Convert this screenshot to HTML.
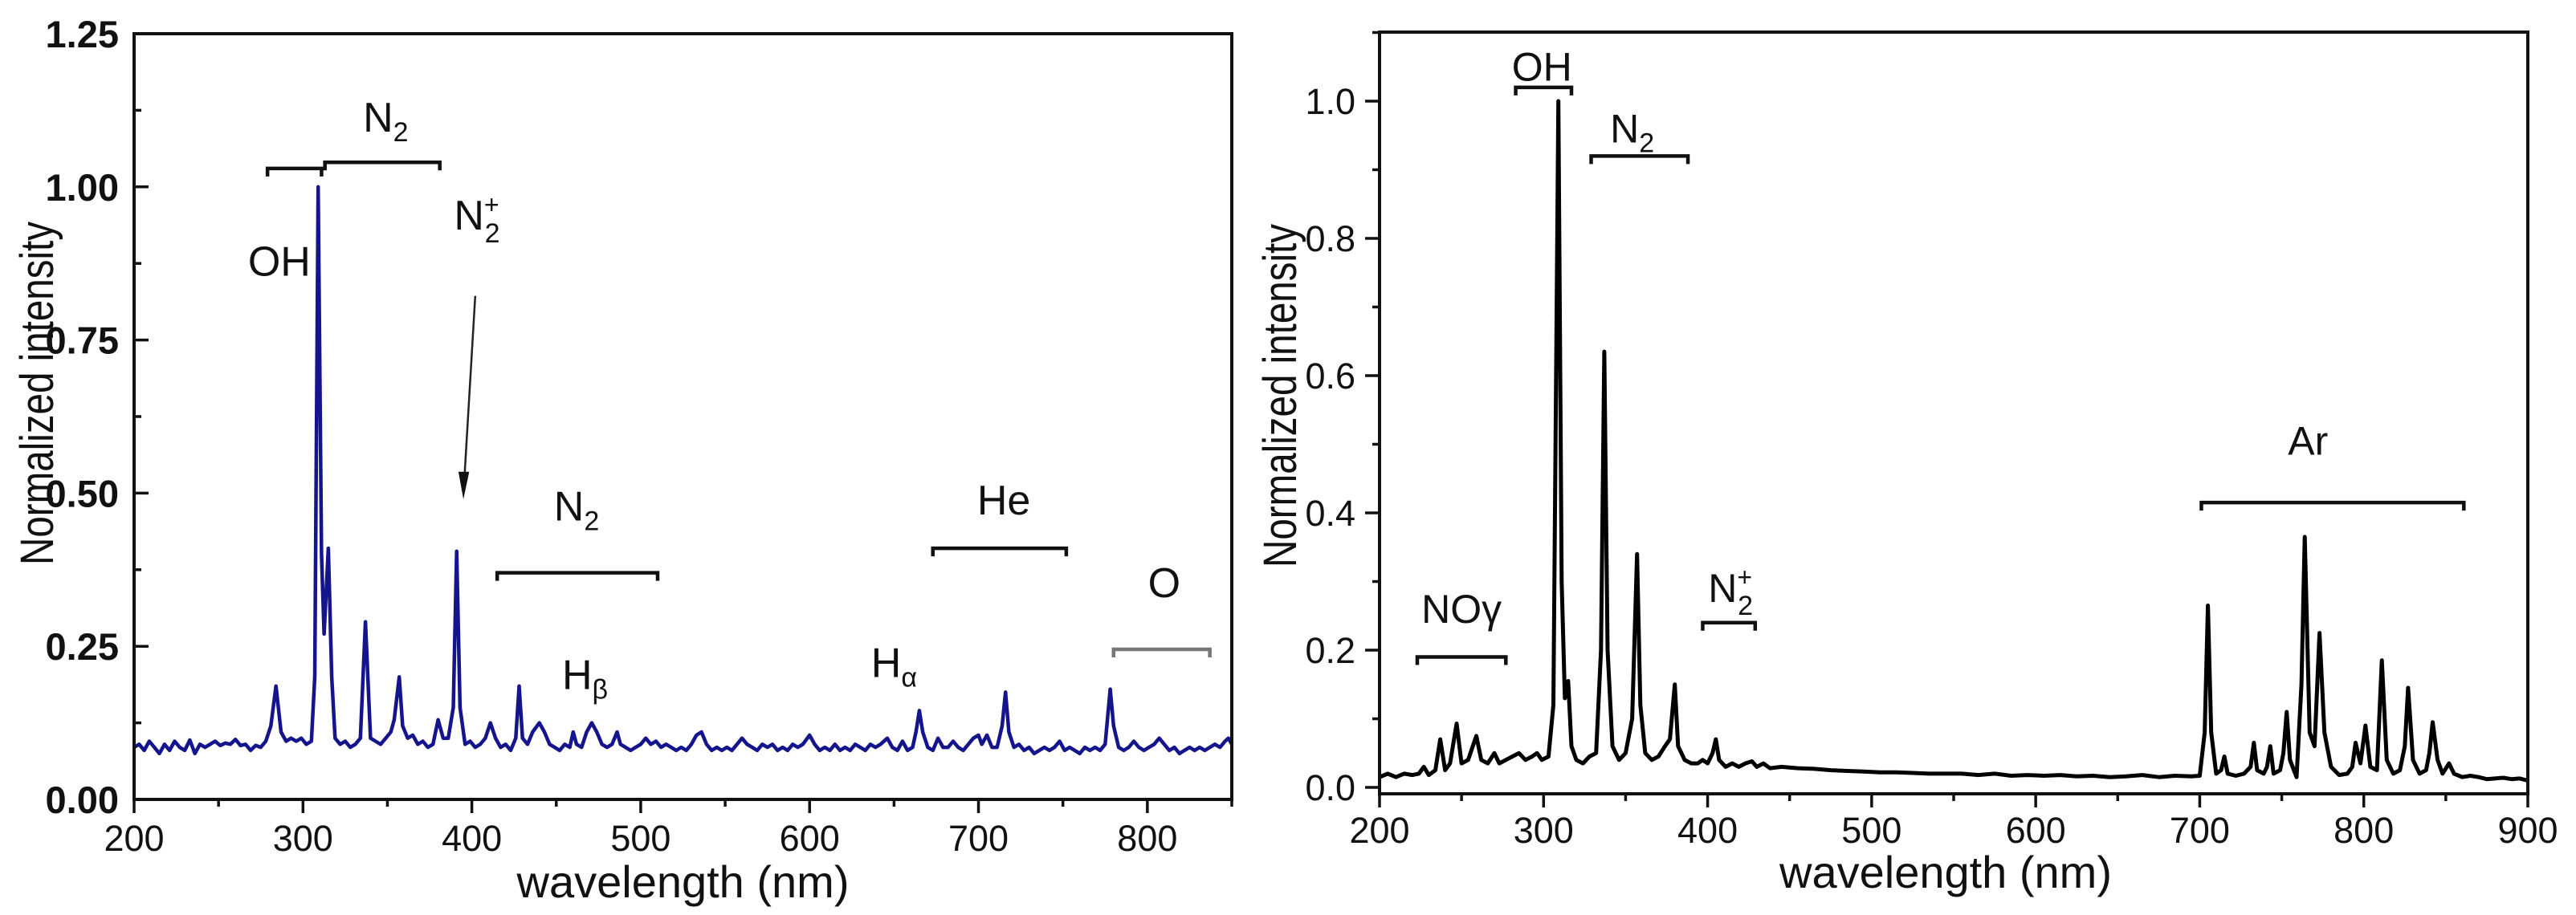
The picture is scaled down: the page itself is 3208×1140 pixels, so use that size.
<!DOCTYPE html>
<html><head><meta charset="utf-8"><style>
html,body{margin:0;padding:0;background:#fff;}
svg{display:block;font-family:"Liberation Sans",Arial,sans-serif;}
</style></head><body>
<svg id="fig" width="3208" height="1140" viewBox="0 0 3208 1140" xmlns="http://www.w3.org/2000/svg"></svg>
<script>
// ---------- Left chart data ----------
const leftWl = [200,203,206,209,212,215,218,221,224,227,230,233,236,239,242,245,248,251,254,257,260,263,266,269,272,275,278,281,284,287,290,293,296,299,302,305,307,309,311,312.5,315,317,319,322,325,328,331,334,337,340,343,346,349,352,354,357,359,362,365,368,371,374,377,380,383,386,389,391,393,396,399,402,405,408,411,414,417,420,423,426,428,430,433,436,440,443,446,449,452,455,458,460,462,465,468,471,474,477,480,483,486,488,491,494,497,500,503,506,509,512,515,518,521,524,527,530,533,536,539,542,545,548,551,554,557,560,563,566,569,572,575,578,581,584,587,590,593,596,600,603,606,609,612,615,618,621,624,627,630,633,636,639,642,646,649,652,655,658,661,663,665,667,670,673,676,679,682,685,688,691,694,697,700,702,705,708,711,714,716,718,721,724,727,730,733,736,739,742,745,748,751,754,757,760,763,766,769,772,775,778,780,783,786,789,792,795,798,801,804,807,810,813,816,819,822,825,828,831,834,837,840,843,846,848,850];
const leftVal = [.085,.09,.08,.095,.085,.075,.09,.08,.095,.085,.08,.097,.075,.09,.085,.09,.095,.088,.092,.09,.098,.088,.09,.08,.088,.085,.095,.12,.185,.11,.095,.1,.095,.1,.09,.095,.2,1.0,.4,.27,.41,.2,.1,.09,.095,.085,.09,.1,.29,.1,.095,.09,.1,.11,.13,.2,.12,.1,.105,.09,.095,.085,.09,.13,.1,.1,.15,.405,.15,.09,.095,.085,.09,.1,.125,.1,.085,.09,.08,.1,.185,.1,.09,.11,.125,.11,.09,.085,.08,.09,.085,.11,.09,.085,.11,.125,.11,.09,.085,.09,.11,.09,.085,.08,.085,.09,.1,.09,.095,.085,.09,.085,.08,.085,.08,.09,.105,.11,.09,.08,.085,.08,.085,.08,.09,.1,.09,.085,.08,.09,.085,.09,.08,.085,.08,.09,.085,.09,.105,.09,.08,.085,.08,.09,.08,.085,.08,.09,.085,.08,.09,.085,.09,.1,.085,.08,.095,.08,.085,.11,.145,.11,.085,.08,.1,.085,.085,.095,.085,.08,.09,.1,.105,.09,.105,.085,.085,.12,.175,.11,.085,.09,.08,.085,.075,.08,.085,.08,.085,.095,.08,.085,.08,.075,.085,.08,.085,.08,.09,.18,.12,.085,.08,.085,.095,.085,.08,.085,.09,.1,.09,.08,.085,.075,.08,.085,.08,.085,.08,.085,.09,.085,.095,.1,.09];
const leftYTicks = [0,0.25,0.5,0.75,1.0,1.25];
const leftYLabels = ["0.00","0.25","0.50","0.75","1.00","1.25"];
const leftXTicks = [200,300,400,500,600,700,800];

// ---------- Right chart data ----------
const rightWl = [200,205,210,215,220,224,227,230,234,237,240,243,247,250,254,259,262,266,270,273,277,281,285,289,293,296,299,303,306,309,311,313,315,317,320,324,328,332,335,337,339,342,346,350,354,357,359,362,366,370,374,377,380,382,386,390,394,397,400,403,405,407,411,415,419,423,427,430,434,438,445,455,465,475,485,495,505,515,525,535,545,555,565,575,585,595,605,615,625,635,645,655,665,675,685,695,700,703,705,707,710,713,715,717,722,727,731,733,735,739,741,743,745,749,751,753,755,759,762,764,767,770,773,776,780,785,790,793,795,798,801,804,808,811,814,818,822,825,827,830,834,838,840,842,845,848,852,855,860,865,870,875,880,885,890,895,900];
const rightVal = [.015,.02,.015,.02,.018,.02,.03,.018,.025,.07,.025,.035,.093,.035,.04,.075,.04,.035,.05,.035,.04,.045,.05,.04,.045,.05,.04,.045,.12,1.0,.3,.13,.155,.06,.04,.035,.045,.05,.2,.635,.2,.06,.04,.05,.1,.34,.12,.05,.04,.045,.06,.07,.15,.06,.04,.035,.035,.04,.035,.05,.07,.04,.03,.035,.03,.035,.038,.03,.035,.028,.03,.028,.027,.025,.024,.023,.022,.022,.021,.02,.02,.02,.018,.02,.017,.018,.017,.018,.016,.017,.015,.016,.018,.015,.017,.016,.017,.08,.265,.08,.02,.025,.045,.02,.017,.02,.03,.065,.025,.02,.03,.06,.02,.025,.05,.11,.04,.015,.15,.365,.08,.06,.225,.08,.03,.018,.02,.03,.065,.035,.09,.03,.025,.185,.04,.02,.025,.06,.145,.04,.02,.025,.05,.095,.04,.02,.035,.02,.015,.017,.015,.012,.013,.014,.012,.013,.01];
const rightYTicks = [0,0.2,0.4,0.6,0.8,1.0];
const rightYLabels = ["0.0","0.2","0.4","0.6","0.8","1.0"];
const rightXTicks = [200,300,400,500,600,700,800,900];

const NS = "http://www.w3.org/2000/svg";
const svg = document.getElementById('fig');
function mk(tag, attrs, parent, text){
  const e = document.createElementNS(NS, tag);
  for (const k in attrs) e.setAttribute(k, attrs[k]);
  if (text !== undefined) e.textContent = text;
  (parent || svg).appendChild(e);
  return e;
}

// ---------- Left chart ----------
const L = {x0:167, x1:1534, y0:996, y1:42, xmin:200, xmax:850, ymin:0, ymax:1.25};
const lx = v => L.x0 + (v - L.xmin) / (L.xmax - L.xmin) * (L.x1 - L.x0);
const ly = v => L.y0 - (v - L.ymin) / (L.ymax - L.ymin) * (L.y0 - L.y1);

const gL = mk('g', {});



let d = '';
leftWl.forEach((w, i) => { d += (i ? 'L' : 'M') + lx(w).toFixed(1) + ',' + ly(leftVal[i]).toFixed(1); });
const lLine = mk('path', {d: d, fill:'none', stroke:'#14148c', 'stroke-width':4.5, 'stroke-linejoin':'round'}, gL);



const lFrame = mk('rect', {x:L.x0, y:L.y1, width:L.x1-L.x0, height:L.y0-L.y1, fill:'none', stroke:'#111', 'stroke-width':4}, gL);



leftYTicks.forEach((t, i) => {
  const y = ly(t);
  const tk = mk('line', {x1:L.x0, x2:L.x0+18, y1:y, y2:y, stroke:'#111', 'stroke-width':3.5}, gL);
  
  
  const lb = mk('text', {x:148, y:y+17, 'text-anchor':'end', 'font-size':47, 'font-weight':'bold', fill:'#111'}, gL, leftYLabels[i]);
  
  
  if (i < leftYTicks.length - 1) {
    const ym = ly(t + 0.125);
    const mt = mk('line', {x1:L.x0, x2:L.x0+9, y1:ym, y2:ym, stroke:'#111', 'stroke-width':3.5}, gL);
    
    
  }
});
leftXTicks.forEach((t) => {
  const x = lx(t);
  const tk = mk('line', {x1:x, x2:x, y1:L.y0, y2:L.y0+17, stroke:'#111', 'stroke-width':3.5}, gL);
  
  
  const lb = mk('text', {x:x, y:1060, 'text-anchor':'middle', 'font-size':45, fill:'#111'}, gL, String(t));
  
  
  const xm = lx(t + 50);
  const mt = mk('line', {x1:xm, x2:xm, y1:L.y0, y2:L.y0+9, stroke:'#111', 'stroke-width':3.5}, gL);
  
  
});
const lxt = mk('text', {x:(L.x0+L.x1)/2, y:1118, 'text-anchor':'middle', 'font-size':56, fill:'#111'}, gL, 'wavelength (nm)');


const lyt = mk('text', {x:0, y:0, transform:'translate(66,490) rotate(-90) scale(0.82,1)', 'text-anchor':'middle', 'font-size':58, fill:'#111'}, gL, 'Normalized intensity');



function bracket(g, fx, fy, a, b, v, color, name){
  const y = fy(v);
  const p = mk('path', {d:`M${fx(a)},${y+10}V${y}H${fx(b)}V${y+10}`, fill:'none', stroke:color, 'stroke-width':4.5}, g);
  
  
}
function label(g, x, y, main, sub, sup, name, size){
  const t = mk('text', {x:x, y:y, 'text-anchor':'middle', 'font-size':size||52, fill:'#111'}, g);
  
  
  mk('tspan', {}, t, main);
  if (sup) mk('tspan', {dy:-20, 'font-size':32}, t, sup);
  if (sub) mk('tspan', {dx: sup ? -18 : 0, dy: sup ? 36 : 12, 'font-size':34}, t, sub);
  return t;
}
bracket(gL, lx, ly, 279, 311, 1.03, '#111', 'oh-bracket');
bracket(gL, lx, ly, 313, 381, 1.04, '#111', 'n2-bracket-1');
bracket(gL, lx, ly, 415, 510, 0.37, '#111', 'n2-bracket-2');
bracket(gL, lx, ly, 673, 752, 0.41, '#111', 'he-bracket');
bracket(gL, lx, ly, 780, 837, 0.245, '#777', 'o-bracket');
label(gL, lx(286), ly(0.855), 'OH', null, null, 'oh-label');
label(gL, lx(349), ly(1.09), 'N', '2', null, 'n2-label-1');
label(gL, lx(403), ly(0.93), 'N', '2', '+', 'n2-plus-label');
label(gL, lx(462), ly(0.455), 'N', '2', null, 'n2-label-2');
label(gL, lx(715), ly(0.465), 'He', null, null, 'he-label');
label(gL, lx(810), ly(0.33), 'O', null, null, 'o-label');
label(gL, lx(467), ly(0.18), 'H', 'β', null, 'h-beta-label');
label(gL, lx(650), ly(0.2), 'H', 'α', null, 'h-alpha-label');
const arr = mk('line', {x1:lx(402), y1:ly(0.822), x2:lx(395.5), y2:ly(0.52), stroke:'#222', 'stroke-width':2.5}, gL);


const ah = mk('path', {d:`M${lx(395)},${ly(0.49)} L${lx(393)-2},${ly(0.535)} L${lx(397.5)+2},${ly(0.535)} Z`, fill:'#111'}, gL);



// ---------- Right chart ----------
const R = {x0:1718, x1:3148, y0:989, y1:40, xmin:200, xmax:900};
const rx = v => R.x0 + (v - R.xmin) / (R.xmax - R.xmin) * (R.x1 - R.x0);
const ry = v => 981 - v * 855;

const gR = mk('g', {});



let d2 = '';
rightWl.forEach((w, i) => { d2 += (i ? 'L' : 'M') + rx(w).toFixed(1) + ',' + ry(rightVal[i]).toFixed(1); });
const rLine = mk('path', {d: d2, fill:'none', stroke:'#000', 'stroke-width':5, 'stroke-linejoin':'round'}, gR);



const rFrame = mk('rect', {x:R.x0, y:R.y1, width:R.x1-R.x0, height:R.y0-R.y1, fill:'none', stroke:'#111', 'stroke-width':4}, gR);



rightYTicks.forEach((t, i) => {
  const y = ry(t);
  const tk = mk('line', {x1:R.x0-18, x2:R.x0, y1:y, y2:y, stroke:'#111', 'stroke-width':3.5}, gR);
  
  
  const lb = mk('text', {x:R.x0-30, y:y+16, 'text-anchor':'end', 'font-size':45, fill:'#111'}, gR, rightYLabels[i]);
  
  
  const ym = ry(t + 0.1);
  const mt = mk('line', {x1:R.x0-9, x2:R.x0, y1:ym, y2:ym, stroke:'#111', 'stroke-width':3.5}, gR);
  
  
});
rightXTicks.forEach((t, i) => {
  const x = rx(t);
  const tk = mk('line', {x1:x, x2:x, y1:R.y0, y2:R.y0+17, stroke:'#111', 'stroke-width':3.5}, gR);
  
  
  const lb = mk('text', {x:x, y:1050, 'text-anchor':'middle', 'font-size':45, fill:'#111'}, gR, String(t));
  
  
  if (i < rightXTicks.length - 1) {
    const xm = rx(t + 50);
    const mt = mk('line', {x1:xm, x2:xm, y1:R.y0, y2:R.y0+9, stroke:'#111', 'stroke-width':3.5}, gR);
    
    
  }
});
const rxt = mk('text', {x:(R.x0+R.x1)/2 - 10, y:1106, 'text-anchor':'middle', 'font-size':56, fill:'#111'}, gR, 'wavelength (nm)');


const ryt = mk('text', {x:0, y:0, transform:'translate(1614,493) rotate(-90) scale(0.82,1)', 'text-anchor':'middle', 'font-size':58, fill:'#111'}, gR, 'Normalized intensity');



bracket(gR, rx, ry, 283, 317, 1.02, '#111', 'right-oh-bracket');
bracket(gR, rx, ry, 329, 388, 0.92, '#111', 'right-n2-bracket');
bracket(gR, rx, ry, 223, 277, 0.19, '#111', 'noy-bracket');
bracket(gR, rx, ry, 397, 429, 0.24, '#111', 'right-n2-plus-bracket');
bracket(gR, rx, ry, 701, 861, 0.415, '#111', 'ar-bracket');
label(gR, rx(299), ry(1.03), 'OH', null, null, 'right-oh-label', 50);
label(gR, rx(354), ry(0.94), 'N', '2', null, 'right-n2-label', 50);
label(gR, rx(250), ry(0.24), 'NOγ', null, null, 'noy-label', 50);
label(gR, rx(414), ry(0.27), 'N', '2', '+', 'right-n2-plus-label', 50);
label(gR, rx(766), ry(0.485), 'Ar', null, null, 'ar-label', 50);
</script>
</body></html>
